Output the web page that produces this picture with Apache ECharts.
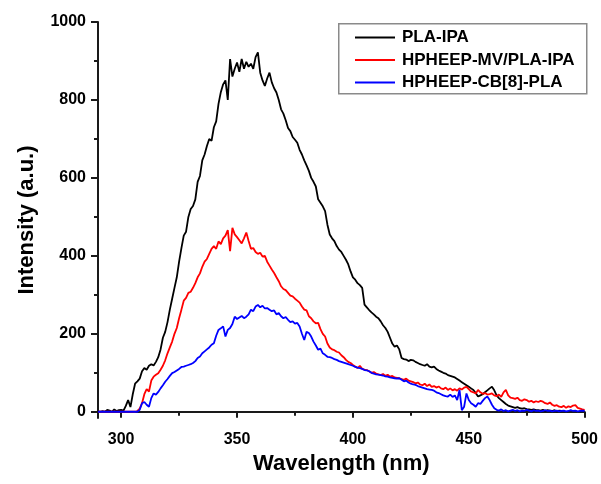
<!DOCTYPE html>
<html><head><meta charset="utf-8">
<script src="https://cdn.jsdelivr.net/npm/echarts@6/dist/echarts.min.js"></script>
<style>html,body{margin:0;padding:0;background:#fff}#c{width:601px;height:484px}</style>
</head><body><div id="c"></div>
<script>
// Sampling: 1 nm steps starting at 290 nm
const startWavelength = 290;
const seriesNames = ['PLA-IPA', 'HPHEEP-MV/PLA-IPA', 'HPHEEP-CB[8]-PLA'];

const plaIpa = [
0,0,2,0,5,3,0,6,2,4,
5,3,15,30,12,45,72,78,85,104,
112,108,118,122,119,128,140,160,190,205,
230,262,290,318,345,385,420,452,462,500,
520,528,545,590,605,645,660,682,700,695,
730,745,790,820,840,850,800,905,860,880,
896,872,905,880,898,885,893,880,910,922,
870,850,836,855,870,845,830,819,800,776,
765,748,728,720,705,698,690,672,660,645,
632,618,600,590,578,545,536,527,515,480,
455,445,438,425,416,410,400,390,378,360,
345,339,330,325,318,275,268,261,255,250,
244,240,232,222,215,205,190,175,167,170,
160,138,135,134,130,133,132,128,125,122,
120,118,122,116,114,116,110,106,103,100,
98,94,92,90,88,84,80,76,72,68,
64,60,56,48,39,42,45,50,55,60,
64,55,42,35,30,25,20,16,14,12,
10,12,9,8,9,7,6,5,6,4,
4,3,5,2,4,3,2,4,1,3,2
];

const mvPlaIpa = [
0,0,0,0,0,0,0,0,0,0,
0,0,0,0,0,0,0,2,8,22,
45,58,52,80,90,95,99,108,118,132,
150,165,180,200,215,240,262,285,292,305,
308,318,330,345,355,372,385,392,405,418,
425,418,437,430,445,452,466,412,472,455,
448,440,432,445,460,438,418,420,410,405,
408,398,400,385,375,365,356,345,335,322,
315,312,305,298,296,290,285,280,270,262,
260,245,240,232,227,228,212,200,193,175,
165,160,158,154,152,145,140,133,128,125,
120,116,112,118,110,108,107,104,100,102,
98,96,94,97,92,95,90,92,88,87,
86,84,82,85,80,78,76,73,75,70,
68,72,66,70,64,66,62,65,60,58,
62,56,60,55,58,54,60,57,62,64,
58,52,50,47,56,50,46,48,44,45,
47,42,40,44,38,50,56,42,36,35,
33,36,30,28,32,30,26,28,24,27,
25,28,26,22,20,24,18,15,17,13,
12,15,10,14,12,16,17,10,8,6,5
];

const cb8Pla = [
0,0,0,0,0,0,0,0,0,0,
0,0,0,0,0,0,0,0,5,22,
25,18,13,35,47,44,51,60,68,77,
84,92,99,102,106,110,115,116,118,120,
122,125,130,138,142,150,155,160,165,172,
176,195,210,214,219,193,210,215,225,244,
238,242,246,240,244,250,262,258,270,274,
268,272,265,266,262,258,260,250,253,245,
240,243,236,230,232,226,228,219,200,184,
205,202,193,180,170,159,162,150,146,141,
140,138,135,133,130,128,126,124,122,120,
118,115,113,112,110,107,106,104,100,98,
96,95,94,93,91,90,88,87,86,85,
86,82,78,80,75,72,70,69,66,64,
62,60,58,57,56,54,50,48,45,42,
40,39,44,38,42,30,56,4,13,47,
30,22,18,13,22,20,28,35,39,30,
18,9,5,3,6,2,4,1,3,5,
2,4,1,3,2,5,3,1,4,2,
3,1,2,4,2,3,1,2,3,1,
2,3,1,2,4,2,3,1,2,3,2
];

const xMajorTicks = [300, 350, 400, 450, 500];
const xMinorTicks = [325, 375, 425, 475];
const yMajorTicks = [0, 200, 400, 600, 800, 1000];
const yMinorTicks = [100, 300, 500, 700, 900];

const FONT = '"Liberation Sans", Arial, sans-serif';
const toPairs = arr => arr.map((v, i) => [startWavelength + i, v]);
const axisColor = '#1a1a1a';

const chart = echarts.init(document.getElementById('c'), null, {renderer: 'canvas'});
chart.setOption({
  animation: false,
  backgroundColor: '#fff',
  grid: {left: 98, right: 16, top: 22, bottom: 66, containLabel: false},
  xAxis: [{
    type: 'value', min: 290, max: 500, position: 'bottom',
    axisLine: {show: true, lineStyle: {color: axisColor, width: 2}},
    axisTick: {show: true, customValues: xMajorTicks, length: 6, lineStyle: {color: axisColor, width: 2}},
    axisLabel: {show: true, customValues: xMajorTicks, margin: 14, color: '#000', fontSize: 16, fontWeight: 'bold', fontFamily: FONT,
      formatter: v => String(v)},
    splitLine: {show: false},
    name: 'Wavelength (nm)', nameLocation: 'middle', nameGap: 34,
    nameTextStyle: {color: '#000', fontSize: 22, fontWeight: 'bold', fontFamily: FONT}
  }, {
    type: 'value', min: 290, max: 500, position: 'bottom',
    axisLine: {show: false},
    axisTick: {show: true, customValues: xMinorTicks, length: 4, lineStyle: {color: axisColor, width: 2}},
    axisLabel: {show: false},
    splitLine: {show: false}
  }],
  yAxis: [{
    type: 'value', min: -16, max: 1000, position: 'left',
    axisLine: {show: true, lineStyle: {color: axisColor, width: 2}},
    axisTick: {show: true, customValues: yMajorTicks, length: 7, lineStyle: {color: axisColor, width: 2}},
    axisLabel: {show: true, customValues: yMajorTicks, margin: 12, color: '#000', fontSize: 16, fontWeight: 'bold', fontFamily: FONT,
      formatter: v => String(v)},
    splitLine: {show: false},
    name: 'Intensity (a.u.)', nameLocation: 'middle', nameGap: 60, nameRotate: 90,
    nameTextStyle: {color: '#000', fontSize: 22, fontWeight: 'bold', fontFamily: FONT}
  }, {
    type: 'value', min: -16, max: 1000, position: 'left',
    axisLine: {show: false},
    axisTick: {show: true, customValues: yMinorTicks, length: 4, lineStyle: {color: axisColor, width: 2}},
    axisLabel: {show: false},
    splitLine: {show: false}
  }],
  legend: {
    orient: 'vertical', left: 355, top: 29, padding: 0,
    itemWidth: 40, itemHeight: 2, itemGap: 5.5, icon: 'rect',
    textStyle: {color: '#000', fontSize: 17, lineHeight: 17, fontWeight: 'bold', fontFamily: FONT, padding: [0, 0, 0, 2]},
    data: seriesNames
  },
  graphic: [{
    type: 'rect', left: 338, top: 23, z: -1,
    shape: {width: 248, height: 70},
    style: {fill: '#fff', stroke: '#8a8a8a', lineWidth: 1.5}
  }],
  series: [
    {name: seriesNames[0], type: 'line', data: toPairs(plaIpa), showSymbol: false, color: '#000000', lineStyle: {width: 1.8, color: '#000000'}, xAxisIndex: 0, yAxisIndex: 0},
    {name: seriesNames[1], type: 'line', data: toPairs(mvPlaIpa), showSymbol: false, color: '#ff0000', lineStyle: {width: 1.8, color: '#ff0000'}, xAxisIndex: 0, yAxisIndex: 0},
    {name: seriesNames[2], type: 'line', data: toPairs(cb8Pla), showSymbol: false, color: '#0000ff', lineStyle: {width: 1.8, color: '#0000ff'}, xAxisIndex: 0, yAxisIndex: 0}
  ]
});
</script>
</body></html>
